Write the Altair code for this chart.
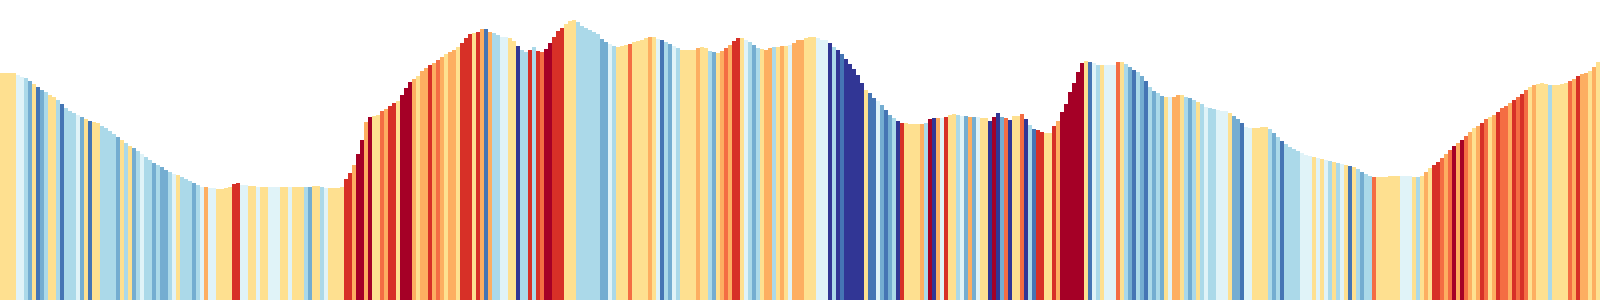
import altair as alt
import pandas as pd

# Bar heights (px-scale values 0..300), read left to right, 8 blocks of 50 bars
heights_1 = [227,227,227,227,225,223,222,219,216,213,210,208,205,203,200,196,192,189,187,185,183,181,179,178,177,174,172,169,166,163,160,157,154,152,149,146,143,140,137,135,133,130,128,126,125,123,121,119,117,115]
heights_2 = [113,113,112,112,111,111,112,113,116,117,115,115,114,114,113,113,113,113,113,113,113,113,113,113,113,113,113,113,114,114,113,112,112,112,112,113,121,127,135,146,160,178,183,184,185,189,191,194,197,199]
heights_3 = [205,212,218,221,224,229,232,235,237,240,243,246,248,250,253,257,262,266,267,268,271,271,268,267,265,263,263,262,259,254,250,248,250,253,249,248,251,257,263,269,272,276,279,280,278,274,272,270,268,266]
heights_4 = [261,258,256,254,253,254,255,256,258,259,260,262,263,263,261,260,258,256,254,252,250,250,250,250,252,253,252,249,248,247,249,252,255,259,262,262,260,258,255,252,251,250,252,253,253,254,254,255,257,260]
heights_5 = [260,262,263,263,262,260,260,257,253,250,246,241,236,231,225,217,210,207,202,199,195,190,185,182,179,177,177,176,176,176,176,177,181,182,182,182,183,185,186,185,184,184,183,183,183,182,182,179,183,187]
heights_6 = [183,182,180,184,184,186,181,175,171,170,168,167,167,174,179,188,196,208,217,228,237,239,238,237,235,235,235,235,235,238,238,236,233,230,228,224,219,213,209,207,204,203,203,203,205,205,203,202,200,198]
heights_7 = [196,193,192,191,190,189,189,187,184,181,177,173,172,172,172,173,173,171,167,163,159,156,153,151,149,147,145,144,143,142,141,140,139,138,137,136,135,134,133,131,128,126,124,123,123,123,123,124,124,124]
heights_8 = [124,124,124,123,123,124,128,132,135,138,142,146,150,154,157,160,164,168,172,174,177,181,183,185,188,192,194,197,200,203,206,210,213,215,216,217,216,215,215,215,216,217,219,221,224,226,227,229,233,238]

# Colour class per bar (0 = coldest ... 9 = warmest)
classes_1 = [5,5,5,5,4,4,3,2,5,1,2,3,5,5,3,1,3,3,3,4,2,5,1,5,5,3,3,3,3,2,5,3,5,2,3,4,3,3,2,3,2,2,3,4,5,3,3,3,2,3]
classes_2 = [4,6,4,4,5,5,5,5,8,8,4,4,5,5,4,5,5,4,4,4,5,5,4,5,5,5,3,2,5,5,3,4,5,5,5,5,8,8,6,9,9,6,9,5,5,7,6,8,8,5]
classes_3 = [9,9,9,6,5,6,6,8,6,7,6,5,6,6,5,8,8,8,5,8,6,1,6,3,3,4,4,5,5,0,3,3,8,3,8,7,9,9,8,8,8,5,5,5,3,3,3,3,3,3]
classes_4 = [2,2,4,3,5,5,5,7,5,5,5,5,6,5,4,1,3,2,4,3,5,5,5,5,6,5,5,3,2,5,6,7,6,8,8,5,4,3,2,3,5,6,6,3,5,6,5,4,6,6]
classes_5 = [6,5,5,5,4,4,4,0,3,0,1,0,0,0,0,0,5,1,1,4,2,1,2,3,0,8,5,5,5,5,6,3,9,0,6,4,8,5,5,3,4,2,6,2,4,5,5,0,9,0]
classes_6 = [2,7,0,5,5,7,0,3,1,8,8,5,5,8,6,9,9,9,9,9,9,5,1,4,3,5,4,4,4,7,5,3,2,1,3,2,1,3,2,3,2,5,4,6,6,5,3,2,3,5]
classes_7 = [3,4,3,3,4,4,4,5,2,2,1,4,4,5,5,5,5,3,2,3,1,3,3,3,3,4,4,4,5,4,5,4,3,5,3,4,5,1,5,3,2,3,3,7,5,5,5,5,5,5]
classes_8 = [4,4,4,5,3,5,6,5,8,8,7,6,7,9,6,9,7,6,5,6,8,7,5,6,8,7,7,6,8,7,8,7,5,6,5,5,5,3,5,5,5,5,7,6,8,6,6,5,6,5]

palette = ["#313695", "#4575b4", "#74add1", "#abd9e9", "#e0f3f8",
           "#fee090", "#fdae61", "#f46d43", "#d73027", "#a50026"]

heights = heights_1 + heights_2 + heights_3 + heights_4 + heights_5 + heights_6 + heights_7 + heights_8
classes = classes_1 + classes_2 + classes_3 + classes_4 + classes_5 + classes_6 + classes_7 + classes_8

df = pd.DataFrame({"i": list(range(len(heights))), "h": heights, "c": classes})

chart = alt.Chart(df).mark_bar().encode(
    x=alt.X("i:O", axis=None, scale=alt.Scale(paddingInner=0, paddingOuter=0)),
    y=alt.Y("h:Q", axis=None, scale=alt.Scale(domain=[0, 300], nice=False)),
    color=alt.Color("c:O", legend=None,
                    scale=alt.Scale(domain=list(range(10)), range=palette)),
).properties(
    width=1600, height=300, padding=0, autosize=alt.AutoSizeParams(type="none"),
    background="white",
).configure_view(strokeWidth=0)

chart.save("out.html", embed_options={"renderer": "svg", "actions": False})
